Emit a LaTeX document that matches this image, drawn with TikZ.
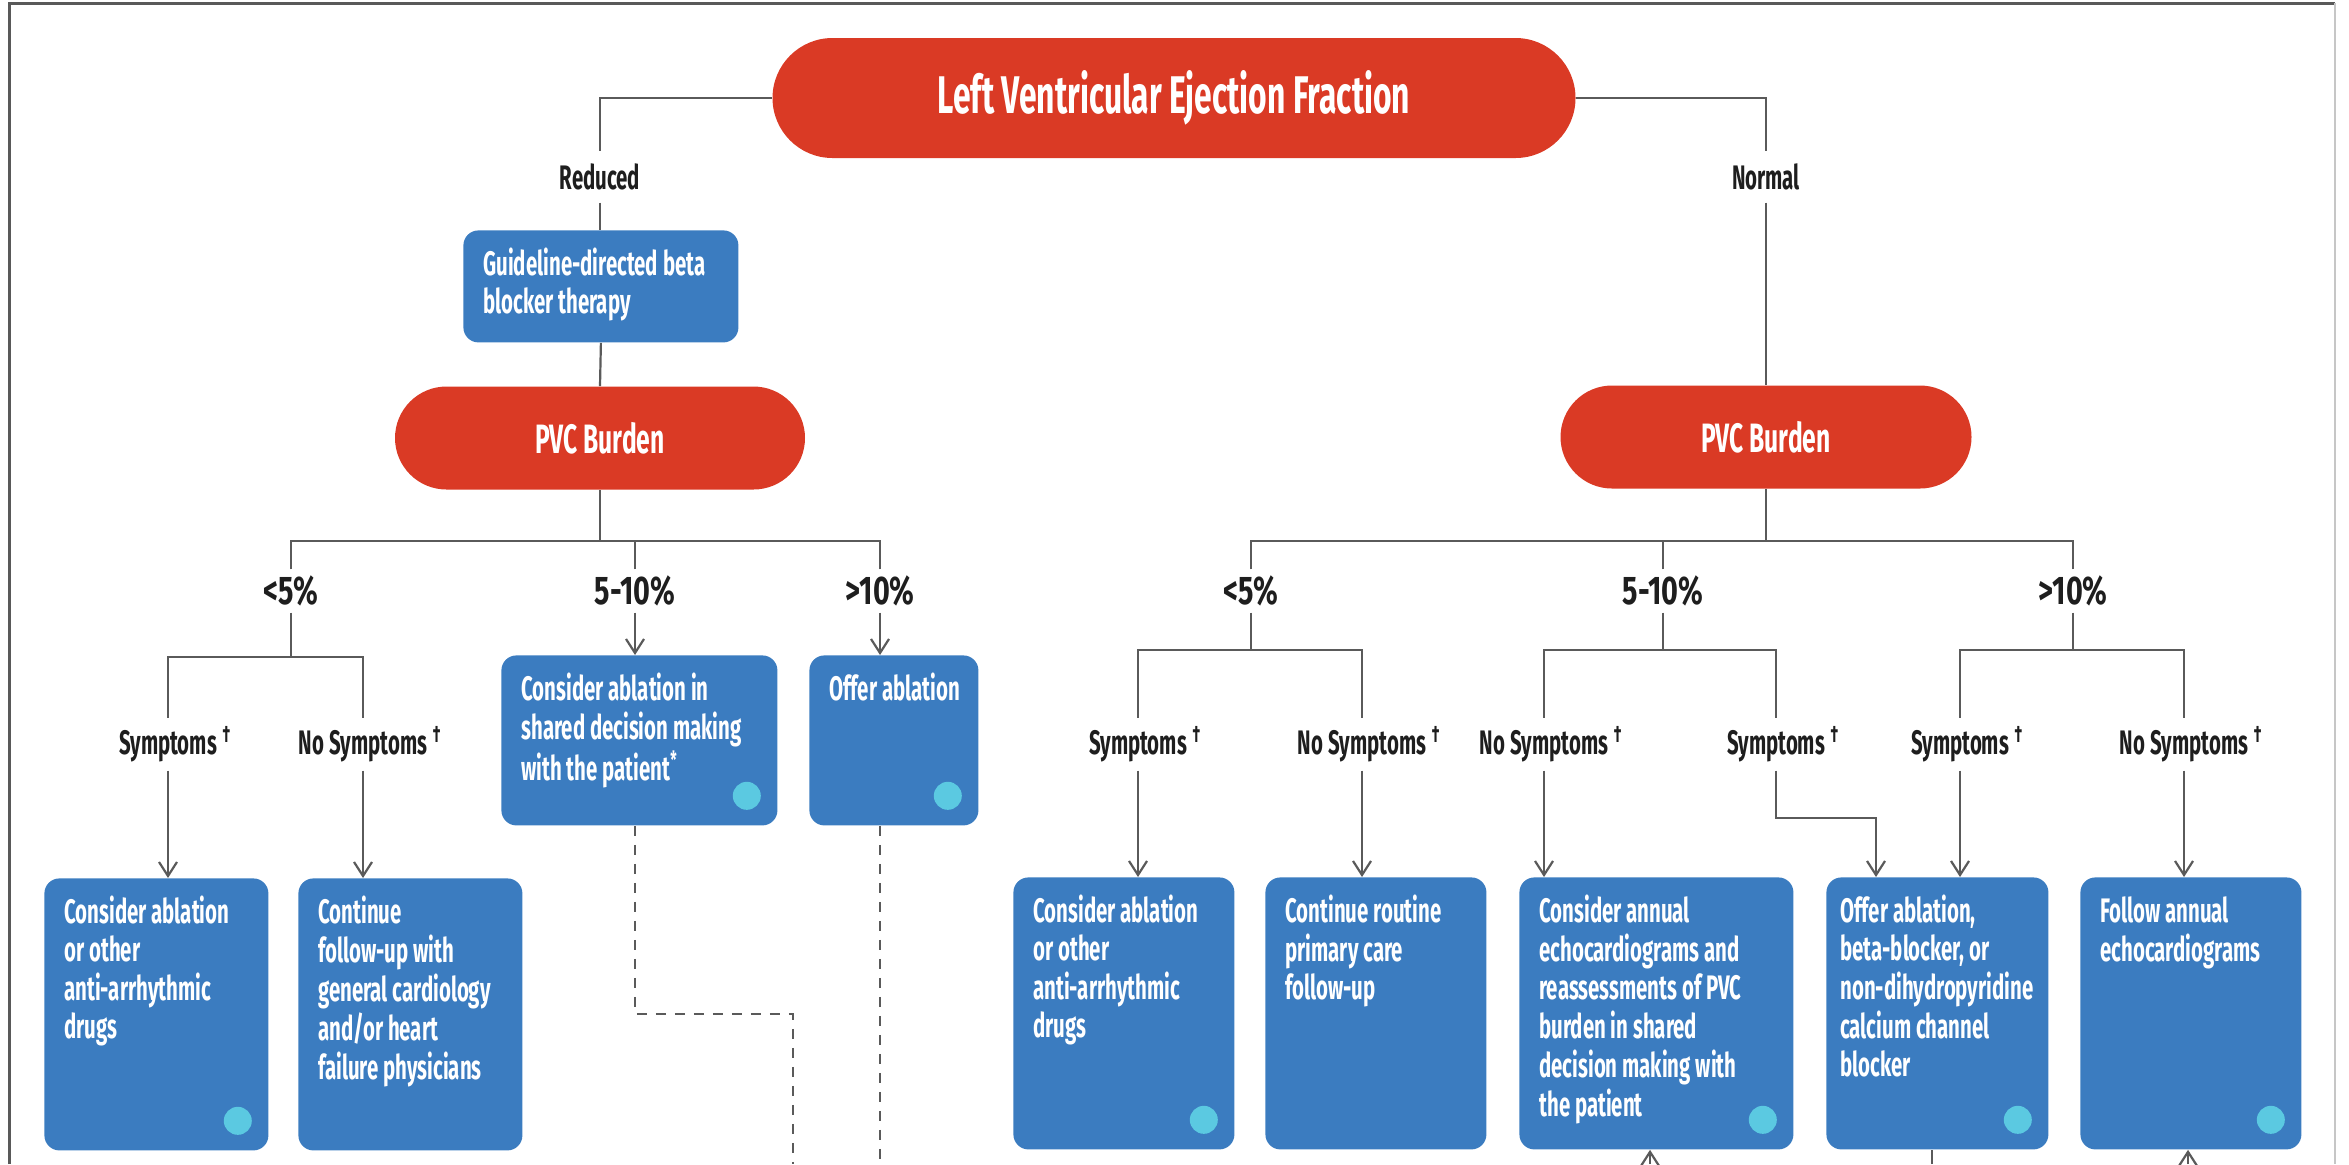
\documentclass[tikz,border=0pt]{standalone}
\usepackage{fontspec}
\setmainfont{Fira Sans}[FakeStretch=0.6]
\newfontfamily\pctfamily{Fira Sans}[FakeStretch=0.72]
\usetikzlibrary{arrows.meta,shapes.misc}

\definecolor{redfill}{HTML}{DA3A25}
\definecolor{boxblue}{HTML}{3B7CC0}
\definecolor{dotcyan}{HTML}{5BC9E1}
\definecolor{linegray}{HTML}{5A5A5A}
\definecolor{labelink}{HTML}{1E1E1E}

% text styles
\newcommand\titlefont{\fontsize{26.5}{30}\selectfont\bfseries}
\newcommand\pvcfont{\fontsize{20.5}{24}\selectfont\bfseries}
\newcommand\bxfont{\fontsize{17}{19}\selectfont\bfseries}
\newcommand\pctfont{\pctfamily\fontsize{20}{24}\selectfont\bfseries}
\newcommand\symfont{\fontsize{17}{20}\selectfont\bfseries}
\newcommand\brfont{\fontsize{17}{20}\selectfont\bfseries}
\newcommand\dg{\rlap{\,\textsuperscript{†}}}
% fixed-width, left-flush block of explicit lines
\newcommand\bt[2]{\makebox[#1][l]{\begin{tabular}[t]{@{}l@{}}#2\end{tabular}}}

\begin{document}
\begin{tikzpicture}[x=0.5pt,y=-0.5pt,
  conn/.style={draw=linegray, line width=1.1pt},
  arr/.style={conn, -{Straight Barb[length=7pt,width=9pt]}},
  dsh/.style={draw=linegray, line width=1pt, dash pattern=on 5pt off 4.5pt},
  pill/.style={rounded rectangle, fill=redfill, text=white, inner sep=0pt},
  bbox/.style={fill=boxblue, rounded corners=7.5pt, text=white,
    anchor=north west, inner xsep=10pt, inner ysep=0pt, text height=22.5pt,
    font=\bxfont},
  lbl/.style={text=labelink, inner sep=3pt},
  pct/.style={lbl, font=\pctfont},
  sym/.style={lbl, inner sep=4pt, font=\symfont},
  dot/.style={circle, fill=dotcyan, minimum size=14pt, inner sep=0pt},
]
\useasboundingbox (0,0) rectangle (2349,1164);

% frame
\draw[draw=gray!70!black, line width=1.5pt] (9,1164) -- (9,3) -- (2335,3);
\draw[draw=gray!45, line width=1pt] (2335,3) -- (2335,1164);

% top level
\node[pill, minimum width=401.5pt, minimum height=60pt, font=\titlefont] (lvef) at (1174,98) {Left Ventricular Ejection Fraction};
\node[lbl, inner sep=6pt, font=\brfont] (red) at (600,177) {Reduced};
\node[lbl, inner sep=6pt, font=\brfont] (nor) at (1766,177) {Normal};

\node[bbox, text depth=33.5pt] (gd) at (463,230)
  {\bt{117.5pt}{Guideline-directed beta\\blocker therapy}};

\node[pill, minimum width=205pt, minimum height=51.5pt, font=\pvcfont] (pvcL) at (600,438) {PVC Burden};
\node[pill, minimum width=205.5pt, minimum height=51.5pt, font=\pvcfont] (pvcR) at (1766,437) {PVC Burden};

\draw[conn] (lvef.west) -| (red.north);
\draw[conn] (red.south) -- (red.south |- gd.north);
\draw[conn] (gd.south) -- (pvcL.north);
\draw[conn] (lvef.east) -| (nor.north);
\draw[conn] (nor.south) -- (pvcR.north);

% ---------- reduced branch ----------
\node[pct] (Ll) at (291,591) {<5\%};
\node[pct] (Lm) at (635,591) {5-10\%};
\node[pct] (Lh) at (880,591) {>10\%};

\coordinate (busL) at (600,541);
\draw[conn] (pvcL.south) -- (busL);
\draw[conn] (Ll.north) |- (busL);
\draw[conn] (Lh.north) |- (busL);
\draw[conn] (Lm.north) -- (Lm.north |- busL);

\node[bbox, text depth=62.5pt] (m1) at (501,655)
  {\bt{118pt}{Consider ablation in\\shared decision making\\with the patient\textsuperscript{*}}};
\node[bbox, text depth=62.5pt] (m2) at (809,655)
  {\bt{64.5pt}{Offer ablation}};
\draw[arr] (Lm.south) -- (Lm.south |- m1.north);
\draw[arr] (Lh.south) -- (Lh.south |- m2.north);

\coordinate (sbL) at (291,657);
\node[sym] (sL1) at (168,744) {Symptoms\dg};
\node[sym] (sL2) at (363,744) {No Symptoms\dg};
\draw[conn] (Ll.south) -- (sbL);
\draw[conn] (sL1.north) |- (sbL);
\draw[conn] (sL2.north) |- (sbL);

\node[bbox, text depth=113.5pt] (L1) at (44,878)
  {\bt{92pt}{Consider ablation\\or other\\anti-arrhythmic\\drugs}};
\node[bbox, text depth=113.5pt] (L2) at (298,878)
  {\bt{92pt}{Continue\\follow-up with\\general cardiology\\and/or heart\\failure physicians}};
\draw[arr] (sL1.south) -- (sL1.south |- L1.north);
\draw[arr] (sL2.south) -- (sL2.south |- L2.north);

% dashed continuations
\coordinate (d1) at (635,1014);
\coordinate (d2) at (793,1014);
\coordinate (d3) at (793,1164);
\coordinate (d4) at (880,1164);
\draw[dsh] (m1.south -| d1) -- (d1) -- (d2) -- (d3);
\draw[dsh] (d4 |- m2.south) -- (d4);

% ---------- normal branch ----------
\node[pct] (Rl) at (1251,591) {<5\%};
\node[pct] (Rm) at (1663,591) {5-10\%};
\node[pct] (Rh) at (2073,591) {>10\%};

\coordinate (busR) at (1766,541);
\draw[conn] (pvcR.south) -- (busR);
\draw[conn] (Rl.north) |- (busR);
\draw[conn] (Rh.north) |- (busR);
\draw[conn] (Rm.north) -- (Rm.north |- busR);

\coordinate (sbR1) at (1251,650);
\coordinate (sbR2) at (1663,650);
\coordinate (sbR3) at (2073,650);
\node[sym] (sR1) at (1138,744) {Symptoms\dg};
\node[sym] (sR2) at (1362,744) {No Symptoms\dg};
\node[sym] (sR3) at (1544,744) {No Symptoms\dg};
\node[sym] (sR4) at (1776,744) {Symptoms\dg};
\node[sym] (sR5) at (1960,744) {Symptoms\dg};
\node[sym] (sR6) at (2184,744) {No Symptoms\dg};
\draw[conn] (Rl.south) -- (sbR1);
\draw[conn] (Rm.south) -- (sbR2);
\draw[conn] (Rh.south) -- (sbR3);
\draw[conn] (sR1.north) |- (sbR1);
\draw[conn] (sR2.north) |- (sbR1);
\draw[conn] (sR3.north) |- (sbR2);
\draw[conn] (sR4.north) |- (sbR2);
\draw[conn] (sR5.north) |- (sbR3);
\draw[conn] (sR6.north) |- (sbR3);

\node[bbox, text depth=113.5pt] (R1) at (1013,877)
  {\bt{90.5pt}{Consider ablation\\or other\\anti-arrhythmic\\drugs}};
\node[bbox, text depth=113.5pt] (R2) at (1265,877)
  {\bt{90.5pt}{Continue routine\\primary care\\follow-up}};
\node[bbox, text depth=113.5pt] (R3) at (1519,877)
  {\bt{117pt}{Consider annual\\echocardiograms and\\reassessments of PVC\\burden in shared\\decision making with\\the patient}};
\node[bbox, inner xsep=7pt, text depth=113.5pt] (R4) at (1826,877)
  {\bt{97pt}{Offer ablation,\\beta-blocker, or\\non-dihydropyridine\\calcium channel\\blocker}};
\node[bbox, text depth=113.5pt] (R5) at (2080,877)
  {\bt{90.5pt}{Follow annual\\echocardiograms}};

\coordinate (k) at (1876,818);
\draw[arr] (sR1.south) -- (sR1.south |- R1.north);
\draw[arr] (sR2.south) -- (sR2.south |- R2.north);
\draw[arr] (sR3.south) -- (sR3.south |- R3.north);
\draw[arr] (sR4.south) |- (k) -- (k |- R4.north);
\draw[arr] (sR5.south) -- (sR5.south |- R4.north);
\draw[arr] (sR6.south) -- (sR6.south |- R5.north);

% links entering from below
\coordinate (e1) at (1650,1164);
\coordinate (e2) at (1932,1164);
\coordinate (e3) at (2188,1164);
\draw[arr] (e1) -- (e1 |- R3.south);
\draw[conn] (e2) -- (e2 |- R4.south);
\draw[arr] (e3) -- (e3 |- R5.south);

% markers
\foreach \b in {m1,m2,L1,R1,R3,R4,R5}
  \node[dot] (dot-\b) at ([xshift=-15.5pt,yshift=15pt]\b.south east) {};
\end{tikzpicture}
\end{document}
